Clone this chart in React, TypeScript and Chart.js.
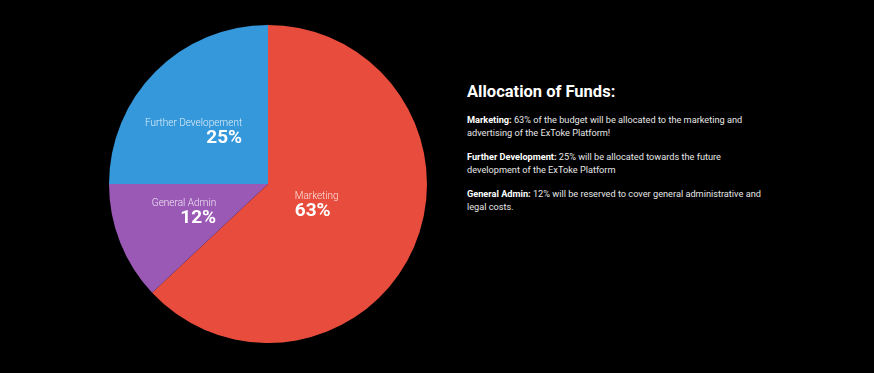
import React, { useEffect, useRef } from "react";
import { Chart, registerables } from "chart.js";

Chart.register(...registerables);

const categories = ["Marketing", "General Admin", "Further Development"];
const pieLabels = ["Marketing", "General Admin", "Further Developement"];
const shares = [63, 12, 25];
const sliceColors = ["#e74c3c", "#9b59b6", "#3498db"];

const descriptions = [
  ["63% of the budget will be allocated to the marketing and", "advertising of the ExToke Platform!"],
  ["12% will be reserved to cover general administrative and", "legal costs."],
  ["25% will be allocated towards the future", "development of the ExToke Platform"],
];
const descOrder = [0, 2, 1];

const sliceLabelPlugin = {
  id: "sliceLabels",
  afterDatasetsDraw(chart: any, _args: any, opts: any) {
    const ctx = chart.ctx;
    const meta = chart.getDatasetMeta(0);
    const data = chart.data.datasets[0].data as number[];
    const names = chart.data.labels as string[];
    meta.data.forEach((arc: any, i: number) => {
      const { x, y, startAngle, endAngle, outerRadius } = arc.getProps(
        ["x", "y", "startAngle", "endAngle", "outerRadius"],
        true
      );
      const mid = (startAngle + endAngle) / 2 + ((opts.angleShift?.[i] || 0) * Math.PI) / 180;
      const f = opts.radiusFactor?.[i] ?? 0.5;
      const cx = x + Math.cos(mid) * outerRadius * f;
      const cy = y + Math.sin(mid) * outerRadius * f;
      const name = names[i];
      const pct = data[i] + "%";
      ctx.save();
      ctx.fillStyle = "rgba(255,255,255,0.85)";
      ctx.font = "300 10px Roboto";
      const w1 = ctx.measureText(name).width;
      ctx.font = "bold 19px Roboto";
      const w2 = ctx.measureText(pct).width;
      const w = Math.max(w1, w2);
      const rightSide = Math.cos(mid) > 0;
      const ax = rightSide ? cx - w / 2 : cx + w / 2;
      ctx.textAlign = rightSide ? "left" : "right";
      ctx.textBaseline = "alphabetic";
      ctx.font = "300 10px Roboto";
      ctx.fillText(name, ax, cy - 4.5);
      ctx.fillStyle = "#ffffff";
      ctx.font = "bold 19px Roboto";
      ctx.fillText(pct, ax, cy + 12.5);
      ctx.restore();
    });
  },
};

function PieChart() {
  const ref = useRef<HTMLCanvasElement | null>(null);
  useEffect(() => {
    if (!ref.current) return;
    const chart = new Chart(ref.current, {
      type: "pie",
      data: {
        labels: pieLabels,
        datasets: [
          {
            data: shares,
            backgroundColor: sliceColors,
            borderWidth: 0,
          },
        ],
      },
      options: {
        animation: false,
        responsive: false,
        maintainAspectRatio: false,
        layout: { padding: 0 },
        plugins: {
          legend: { display: false },
          tooltip: { enabled: false },
          sliceLabels: {
            radiusFactor: [0.33, 0.555, 0.577],
            angleShift: [-1.5, 3.8, -9.3],
          },
        } as any,
      },
      plugins: [sliceLabelPlugin],
    });
    return () => chart.destroy();
  }, []);
  return (
    <canvas
      ref={ref}
      width={318}
      height={318}
      style={{ position: "absolute", left: 109, top: 25, width: 318, height: 318 }}
    />
  );
}

export default function App() {
  useEffect(() => {
    document.body.style.margin = "0";
    document.body.style.background = "#000";
  }, []);
  return (
    <div
      style={{
        position: "relative",
        width: 874,
        height: 373,
        background: "#000",
        overflow: "hidden",
        fontFamily: "Roboto, sans-serif",
      }}
    >
      <PieChart />
      <div style={{ position: "absolute", left: 467, top: 81, width: 320, color: "#e6e6e6" }}>
        <h2
          style={{
            margin: 0,
            fontSize: 16.5,
            lineHeight: "21px",
            fontWeight: 700,
            color: "#ffffff",
          }}
        >
          Allocation of Funds:
        </h2>
        {descOrder.map((idx) => (
          <p
            key={idx}
            style={{
              margin: "11px 0 0 0",
              fontSize: 9.2,
              lineHeight: "13px",
              whiteSpace: "nowrap",
            }}
          >
            <b style={{ color: "#fff" }}>{categories[idx]}:</b> {descriptions[idx][0]}
            <br />
            {descriptions[idx][1]}
          </p>
        ))}
      </div>
    </div>
  );
}
